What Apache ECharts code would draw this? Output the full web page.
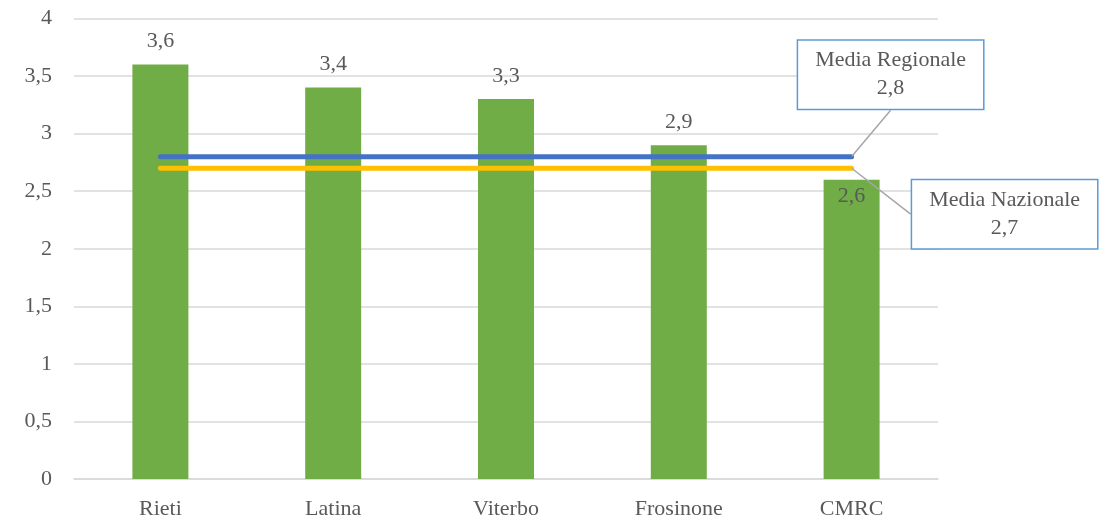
<!DOCTYPE html>
<html><head><meta charset="utf-8">
<script src="https://cdn.jsdelivr.net/npm/echarts@6/dist/echarts.min.js"></script>
<style>html,body{margin:0;padding:0;background:#fff}#c{width:1112px;height:522px}</style>
</head><body><div id="c"></div>
<script>
const categories = ['Rieti', 'Latina', 'Viterbo', 'Frosinone', 'CMRC'];
const provinceValues = [3.6, 3.4, 3.3, 2.9, 2.6];
const mediaRegionale = [2.8, 2.8, 2.8, 2.8, 2.8];
const mediaNazionale = [2.7, 2.7, 2.7, 2.7, 2.7];
const yTicks = [0, 0.5, 1, 1.5, 2, 2.5, 3, 3.5, 4];

const FONT = '"Liberation Serif", "Times New Roman", serif';
const TXT = '#595959';
const fmt = v => String(v).replace('.', ',');

function lineData(arr, name) {
  return arr.map((v, i) => i === arr.length - 1
    ? { value: v, label: { show: true, formatter: name + '\n' + fmt(v) } }
    : v);
}
const barData = provinceValues.map((v, i) => i === provinceValues.length - 1
  ? { value: v, label: { offset: [0, 40] } } : v);

const calloutLabel = {
  show: false, position: 'inside', color: TXT, fontSize: 22, fontFamily: FONT,
  lineHeight: 28, align: 'center', backgroundColor: '#fff', borderColor: '#5B9BD5',
  borderWidth: 1.5, padding: [6, 17, 6, 17]
};

const chart = echarts.init(document.getElementById('c'));
chart.setOption({
  animation: false,
  textStyle: { fontFamily: FONT },
  grid: { left: 74, right: 174, top: 18.5, bottom: 43, containLabel: false },
  xAxis: {
    type: 'category', data: categories,
    axisLine: { lineStyle: { color: '#D9D9D9', width: 1.5 } },
    axisTick: { show: false },
    axisLabel: { color: TXT, fontSize: 22, fontFamily: FONT, margin: 19 }
  },
  yAxis: {
    type: 'value', min: 0, max: 4, interval: 0.5,
    axisLine: { show: false }, axisTick: { show: false },
    splitLine: { lineStyle: { color: '#D9D9D9', width: 1.5 } },
    axisLabel: { color: TXT, fontSize: 22, fontFamily: FONT, margin: 22,
      formatter: v => fmt(v) }
  },
  series: [
    {
      type: 'bar', data: barData, barWidth: 56,
      itemStyle: { color: '#70AD47' },
      label: { show: true, position: 'top', distance: 12, color: TXT,
        fontSize: 22, fontFamily: FONT, formatter: p => fmt(p.value) },
      z: 2
    },
    {
      type: 'line', name: 'Media Regionale',
      data: lineData(mediaRegionale, 'Media Regionale'),
      symbol: 'circle', symbolSize: 1, showSymbol: true,
      itemStyle: { color: '#4472C4' },
      lineStyle: { color: '#4472C4', width: 5, cap: 'round' },
      label: calloutLabel,
      labelLine: { show: true, lineStyle: { color: '#A6A6A6', width: 1.5 } },
      labelLayout: { dx: 39, dy: -82 },
      z: 4
    },
    {
      type: 'line', name: 'Media Nazionale',
      data: lineData(mediaNazionale, 'Media Nazionale'),
      symbol: 'circle', symbolSize: 1, showSymbol: true,
      itemStyle: { color: '#FFC000' },
      lineStyle: { color: '#FFC000', width: 5, cap: 'round' },
      label: calloutLabel,
      labelLine: { show: true, lineStyle: { color: '#A6A6A6', width: 1.5 } },
      labelLayout: { dx: 153, dy: 46 },
      z: 3
    }
  ]
});
</script></body></html>
